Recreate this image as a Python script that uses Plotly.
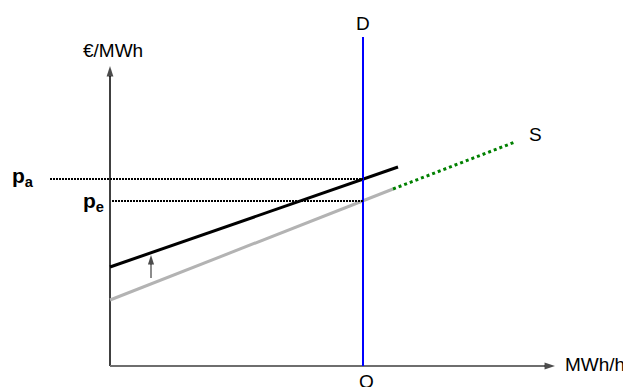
import plotly.graph_objects as go

# Schematic data (x: quantity units, y: price units; origin at axes corner)
supply_x = [0, 283]          # original supply curve (grey)
supply_y = [66, 177]
supply_ext_x = [283, 405]    # supply extension (green dotted)
supply_ext_y = [177, 224]
shifted_x = [0, 288]         # shifted supply curve (black)
shifted_y = [99, 199]
demand_q = 253               # vertical demand D
demand_top = 329
p_a = 187
p_e = 165
y_axis_top = 300
x_axis_end = 445
shift_arrow_x = 41
shift_arrow_from = 88
shift_arrow_to = 111

FONT = "Liberation Sans, Arial, sans-serif"

fig = go.Figure()

def line(x, y, color, width, dash="solid"):
    fig.add_trace(go.Scatter(x=x, y=y, mode="lines",
                             line=dict(color=color, width=width, dash=dash),
                             hoverinfo="skip"))

def arrow(x, y, color, width, head_color, size):
    fig.add_trace(go.Scatter(x=x, y=y, mode="lines+markers",
                             line=dict(color=color, width=width),
                             marker=dict(symbol="arrow", angleref="previous",
                                         size=[0, size], color=head_color,
                                         line=dict(width=0)),
                             hoverinfo="skip"))

# axes
arrow([0, 0], [0, y_axis_top], "black", 1.5, "black", 11)
arrow([0, x_axis_end], [0, 0], "#6e6e6e", 2, "black", 11)

line(supply_x, supply_y, "#b3b3b3", 3)
line(supply_ext_x, supply_ext_y, "#008000", 3, "3px,3px")
line(shifted_x, shifted_y, "black", 3)
line([demand_q, demand_q], [0, demand_top], "#0000ff", 2)
line([-60, demand_q], [p_a, p_a], "black", 2, "2px,1px")
line([2, demand_q], [p_e, p_e], "black", 2, "2px,1px")

arrow([shift_arrow_x, shift_arrow_x], [shift_arrow_from, shift_arrow_to], "#666666", 1.5, "black", 10)

font = dict(family=FONT, size=19, color="black")
annotations = [
    dict(x=3, y=316, text="€/MWh", showarrow=False, font=font, xanchor="center", yanchor="middle"),
    dict(x=demand_q, y=343, text="D", showarrow=False, font=font, xanchor="center", yanchor="middle"),
    dict(x=256, y=-15, text="Q", showarrow=False, font=font, xanchor="center", yanchor="middle"),
    dict(x=425, y=232, text="S", showarrow=False, font=font, xanchor="center", yanchor="middle"),
    dict(x=453, y=2, text="MWh/h", showarrow=False, font=font, xanchor="left", yanchor="middle"),
    dict(x=-100, y=p_a + 2, text="<b>p<sub>a</sub></b>", showarrow=False,
         font=dict(family=FONT, size=21, color="black"), xanchor="left", yanchor="middle"),
    dict(x=-29, y=p_e - 1, text="<b>p<sub>e</sub></b>", showarrow=False,
         font=dict(family=FONT, size=21, color="black"), xanchor="left", yanchor="middle"),
]

fig.update_layout(
    width=623, height=387,
    margin=dict(l=0, r=0, t=0, b=0),
    paper_bgcolor="white", plot_bgcolor="white",
    showlegend=False,
    xaxis=dict(range=[-110, 513], visible=False, fixedrange=True),
    yaxis=dict(range=[-21, 366], visible=False, fixedrange=True),
    annotations=annotations,
)

fig.write_html("out.html",
               config=dict(displayModeBar=False, staticPlot=True),
               post_script="document.body.style.margin='0';document.body.style.overflow='hidden';")
